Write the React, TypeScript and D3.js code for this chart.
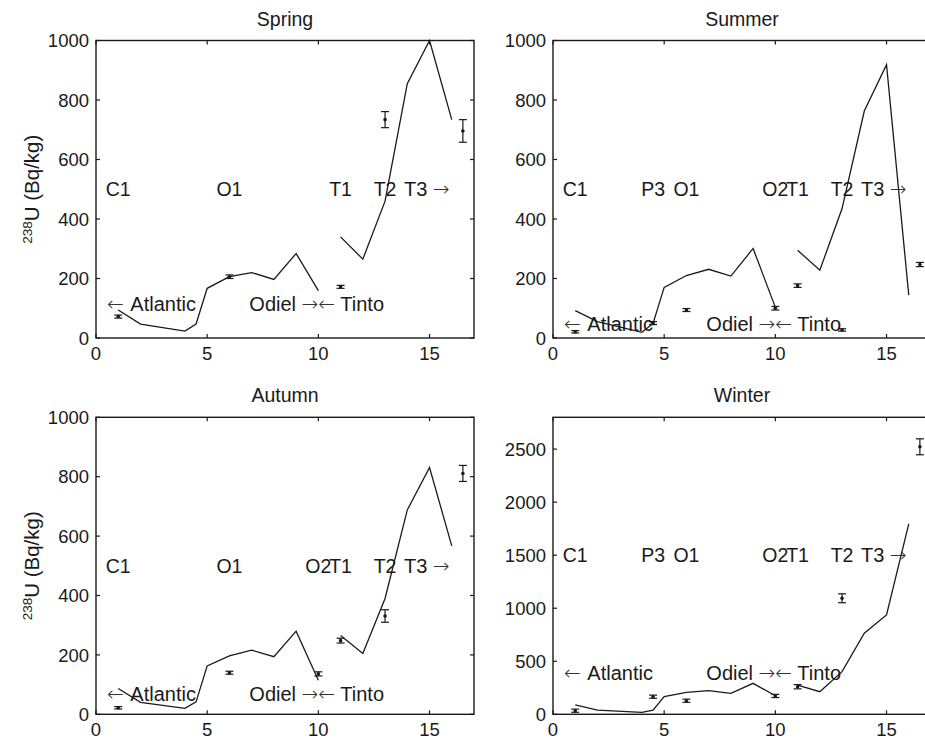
import React from 'react';
import * as d3 from 'd3';

// ---------- data ----------
const modelX1 = [1, 2, 4, 4.5, 5, 6, 7, 8, 9, 10];
const modelX2 = [11, 12, 13, 14, 15, 16];

const springModel1 = [94, 47, 23, 47, 167, 206, 220, 197, 284, 159];
const springModel2 = [340, 265, 460, 855, 1000, 734];
const summerModel1 = [92, 55, 19, 49, 170, 210, 231, 208, 301, 103];
const summerModel2 = [295, 228, 435, 763, 919, 144];
const autumnModel1 = [87, 40, 20, 42, 163, 197, 216, 194, 280, 115];
const autumnModel2 = [265, 205, 390, 688, 831, 567];
const winterModel1 = [88, 40, 19, 40, 166, 207, 223, 198, 292, 175];
const winterModel2 = [276, 213, 402, 764, 937, 1795];

const springObsX = [1, 6, 11, 13, 16.5];
const springObs = [72, 206, 172, 734, 696];
const springErr = [5, 6, 5, 27, 38];
const summerObsX = [1, 4.5, 6, 10, 11, 13, 16.5];
const summerObs = [21, 50, 94, 100, 176, 27, 247];
const summerErr = [4, 5, 5, 6, 6, 4, 7];
const autumnObsX = [1, 6, 10, 11, 13, 16.5];
const autumnObs = [22, 140, 136, 248, 331, 811];
const autumnErr = [4, 5, 7, 8, 21, 27];
const winterObsX = [1, 4.5, 6, 10, 11, 13, 16.5];
const winterObs = [34, 166, 128, 173, 260, 1094, 2522];
const winterErr = [15, 15, 15, 15, 20, 42, 75];

const springStations = ['C1', 'O1', 'T1', 'T2'];
const springStationX = [1, 6, 11, 13];
const summerStations = ['C1', 'P3', 'O1', 'O2', 'T1', 'T2'];
const summerStationX = [1, 4.5, 6, 10, 11, 13];
const autumnStations = ['C1', 'O1', 'O2', 'T1', 'T2'];
const autumnStationX = [1, 6, 10, 11, 13];
const winterStations = ['C1', 'P3', 'O1', 'O2', 'T1', 'T2'];
const winterStationX = [1, 4.5, 6, 10, 11, 13];

const xTicks = [0, 5, 10, 15];
const yTicks1000 = [0, 200, 400, 600, 800, 1000];
const yTicksWinter = [0, 500, 1000, 1500, 2000, 2500];

const titles = ['Spring', 'Summer', 'Autumn', 'Winter'];
const yLabelIso = '238';
const yLabelRest = 'U (Bq/kg)';

// ---------- layout ----------
const FONT = '"Liberation Sans", Arial, Helvetica, sans-serif';
const ARROWFONT = '"DejaVu Sans", sans-serif';
const W = 925, H = 744;

type Panel = {
  title: string; left: number; top: number; w: number; h: number;
  yMax: number; yTicks: number[];
  m1: number[]; m2: number[];
  ox: number[]; oy: number[]; oe: number[];
  st: string[]; stx: number[]; stY: number; flowY: number; yLabel: boolean;
};

const panels: Panel[] = [
  { title: titles[0], left: 96, top: 40.5, w: 378, h: 297.5, yMax: 1000, yTicks: yTicks1000,
    m1: springModel1, m2: springModel2, ox: springObsX, oy: springObs, oe: springErr,
    st: springStations, stx: springStationX, stY: 500, flowY: 116, yLabel: true },
  { title: titles[1], left: 553, top: 40.5, w: 378, h: 297.5, yMax: 1000, yTicks: yTicks1000,
    m1: summerModel1, m2: summerModel2, ox: summerObsX, oy: summerObs, oe: summerErr,
    st: summerStations, stx: summerStationX, stY: 500, flowY: 47, yLabel: false },
  { title: titles[2], left: 96, top: 417.3, w: 378, h: 297, yMax: 1000, yTicks: yTicks1000,
    m1: autumnModel1, m2: autumnModel2, ox: autumnObsX, oy: autumnObs, oe: autumnErr,
    st: autumnStations, stx: autumnStationX, stY: 500, flowY: 70, yLabel: true },
  { title: titles[3], left: 553, top: 417.3, w: 378, h: 297, yMax: 2800, yTicks: yTicksWinter,
    m1: winterModel1, m2: winterModel2, ox: winterObsX, oy: winterObs, oe: winterErr,
    st: winterStations, stx: winterStationX, stY: 1500, flowY: 387, yLabel: false },
];

const INK = '#1a1a1a';

const Arrow = ({ ch }: { ch: string }) => (
  <tspan fontFamily={ARROWFONT} fontWeight={200} fill="#333">{ch}</tspan>
);

function PanelView({ p }: { p: Panel }) {
  const x = d3.scaleLinear().domain([0, 17]).range([p.left, p.left + p.w]);
  const y = d3.scaleLinear().domain([0, p.yMax]).range([p.top + p.h, p.top]);
  const line = d3.line<[number, number]>().x(d => x(d[0])).y(d => y(d[1]));
  const seg1 = line(modelX1.map((v, i) => [v, p.m1[i]]) as [number, number][]) || '';
  const seg2 = line(modelX2.map((v, i) => [v, p.m2[i]]) as [number, number][]) || '';
  const bottom = p.top + p.h;
  const right = p.left + p.w;
  const tl = 4;
  const fs = 19.5;
  const ffs = 20;
  return (
    <g>
      <text x={(p.left + right) / 2} y={p.top - 15} textAnchor="middle" fontSize={19.5} fill={INK}>{p.title}</text>
      {/* axes box */}
      <rect x={p.left} y={p.top} width={p.w} height={p.h} fill="none" stroke={INK} strokeWidth={1.4} />
      {xTicks.map(t => (
        <g key={'xt' + t}>
          <line x1={x(t)} x2={x(t)} y1={bottom} y2={bottom - tl} stroke={INK} strokeWidth={1.2} />
          <line x1={x(t)} x2={x(t)} y1={p.top} y2={p.top + tl} stroke={INK} strokeWidth={1.2} />
          <text x={x(t)} y={bottom + 22} textAnchor="middle" fontSize={18.5} fill={INK}>{t}</text>
        </g>
      ))}
      {p.yTicks.map(t => (
        <g key={'yt' + t}>
          <line x1={p.left} x2={p.left + tl} y1={y(t)} y2={y(t)} stroke={INK} strokeWidth={1.2} />
          <line x1={right} x2={right - tl} y1={y(t)} y2={y(t)} stroke={INK} strokeWidth={1.2} />
          <text x={p.left - 7} y={y(t)} dy="0.36em" textAnchor="end" fontSize={18.5} fill={INK}>{t}</text>
        </g>
      ))}
      {/* model lines */}
      <path d={seg1} fill="none" stroke={INK} strokeWidth={1.3} />
      <path d={seg2} fill="none" stroke={INK} strokeWidth={1.3} />
      {/* observations with error bars */}
      {p.ox.map((xv, i) => {
        const cx = x(xv);
        const y1 = y(p.oy[i] - p.oe[i]);
        const y2 = y(p.oy[i] + p.oe[i]);
        return (
          <g key={'o' + i}>
            <line x1={cx} x2={cx} y1={y1} y2={y2} stroke={INK} strokeWidth={1.2} />
            <line x1={cx - 4} x2={cx + 4} y1={y1} y2={y1} stroke={INK} strokeWidth={1.2} />
            <line x1={cx - 4} x2={cx + 4} y1={y2} y2={y2} stroke={INK} strokeWidth={1.2} />
            <circle cx={cx} cy={y(p.oy[i])} r={1.8} fill={INK} />
          </g>
        );
      })}
      {/* station labels */}
      {p.st.map((s, i) => (
        <text key={'s' + i} x={x(p.stx[i])} y={y(p.stY)} dy="0.36em" textAnchor="middle" fontSize={fs} fill={INK}>{s}</text>
      ))}
      <text x={x(13.85)} y={y(p.stY)} dy="0.36em" fontSize={ffs} fill={INK}>T3 <Arrow ch="→" /></text>
      <text x={x(0.5)} y={y(p.flowY)} dy="0.36em" fontSize={ffs} fill={INK}><Arrow ch="←" /><tspan dx="2"> Atlantic</tspan></text>
      <text x={x(10)} y={y(p.flowY)} dy="0.36em" textAnchor="end" fontSize={ffs} fill={INK}>Odiel <Arrow ch="→" /></text>
      <text x={x(10)} y={y(p.flowY)} dy="0.36em" fontSize={ffs} fill={INK}><Arrow ch="←" /> Tinto</text>
      {p.yLabel && (
        <text transform={`translate(39,${(p.top + bottom) / 2}) rotate(-90)`} textAnchor="middle" fontSize={20.5} fill={INK}>
          <tspan fontSize={13.5} dy="-7">{yLabelIso}</tspan>
          <tspan dy="7">{yLabelRest}</tspan>
        </text>
      )}
    </g>
  );
}

export default function App() {
  return (
    <svg width={W} height={H} viewBox={`0 0 ${W} ${H}`}
      style={{ position: 'absolute', left: 0, top: 0, background: '#fff', fontFamily: FONT }}>
      <rect x={0} y={0} width={W} height={H} fill="#fff" />
      {panels.map((p, i) => <PanelView key={i} p={p} />)}
    </svg>
  );
}
